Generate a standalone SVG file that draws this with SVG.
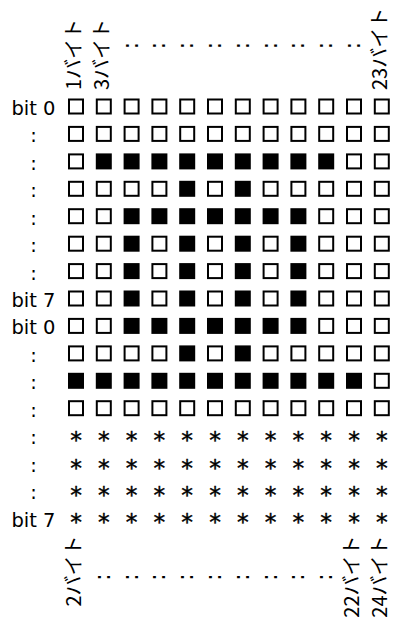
<svg xmlns="http://www.w3.org/2000/svg" width="396" height="621" viewBox="0 0 396 621">
<style>
.e{fill:#fff;stroke:#000;stroke-width:2}
.f{fill:#000;stroke:#000;stroke-width:2}
.lbl{font-family:"DejaVu Sans","Noto Sans CJK JP",sans-serif;font-size:19.5px;fill:#000;text-anchor:middle}
.hd{font-family:"Noto Sans CJK JP",sans-serif;font-size:20px;fill:#000}
.hde{font-family:"Noto Sans CJK JP",sans-serif;font-size:20px;fill:#000;text-anchor:end}
.cl{font-family:"DejaVu Sans",sans-serif;font-size:23px;fill:#000}
.ast{font-family:"DejaVu Sans",sans-serif;font-size:23.4px;fill:#000;stroke:#000;stroke-width:0.4;text-anchor:middle}
</style>
<defs>
<rect id="e" class="e" x="-7" y="-7" width="14" height="14"/>
<rect id="f" class="f" x="-7" y="-7" width="14" height="14"/>
</defs>
<rect width="396" height="621" fill="#fff"/>
<g id="header-top">
<text class="hd" transform="translate(81,90) rotate(-90)">1バイト</text>
<text class="hd" transform="translate(108.8,90) rotate(-90)">3バイト</text>
<text class="cl" transform="translate(137.6,49.4) rotate(-90)">:</text>
<text class="cl" transform="translate(165.4,49.4) rotate(-90)">:</text>
<text class="cl" transform="translate(193.2,49.4) rotate(-90)">:</text>
<text class="cl" transform="translate(221,49.4) rotate(-90)">:</text>
<text class="cl" transform="translate(248.8,49.4) rotate(-90)">:</text>
<text class="cl" transform="translate(276.6,49.4) rotate(-90)">:</text>
<text class="cl" transform="translate(304.4,49.4) rotate(-90)">:</text>
<text class="cl" transform="translate(332.2,49.4) rotate(-90)">:</text>
<text class="cl" transform="translate(360,49.4) rotate(-90)">:</text>
<text class="hd" transform="translate(386.8,90) rotate(-90)">23バイト</text>
</g>
<g id="header-bottom">
<text class="hde" transform="translate(81,535.5) rotate(-90)">2バイト</text>
<text class="cl" transform="translate(109.8,581) rotate(-90)">:</text>
<text class="cl" transform="translate(137.6,581) rotate(-90)">:</text>
<text class="cl" transform="translate(165.4,581) rotate(-90)">:</text>
<text class="cl" transform="translate(193.2,581) rotate(-90)">:</text>
<text class="cl" transform="translate(221,581) rotate(-90)">:</text>
<text class="cl" transform="translate(248.8,581) rotate(-90)">:</text>
<text class="cl" transform="translate(276.6,581) rotate(-90)">:</text>
<text class="cl" transform="translate(304.4,581) rotate(-90)">:</text>
<text class="cl" transform="translate(332.2,581) rotate(-90)">:</text>
<text class="hde" transform="translate(359,535.5) rotate(-90)">22バイト</text>
<text class="hde" transform="translate(386.8,535.5) rotate(-90)">24バイト</text>
</g>
<g id="row-labels">
<text class="lbl" x="33.5" y="115">bit 0</text>
<text class="lbl" x="33.5" y="142.4">:</text>
<text class="lbl" x="33.5" y="169.9">:</text>
<text class="lbl" x="33.5" y="197.3">:</text>
<text class="lbl" x="33.5" y="224.7">:</text>
<text class="lbl" x="33.5" y="252.2">:</text>
<text class="lbl" x="33.5" y="279.6">:</text>
<text class="lbl" x="33.5" y="307">bit 7</text>
<text class="lbl" x="33.5" y="334.4">bit 0</text>
<text class="lbl" x="33.5" y="361.9">:</text>
<text class="lbl" x="33.5" y="389.3">:</text>
<text class="lbl" x="33.5" y="416.7">:</text>
<text class="lbl" x="33.5" y="444.2">:</text>
<text class="lbl" x="33.5" y="471.6">:</text>
<text class="lbl" x="33.5" y="499">:</text>
<text class="lbl" x="33.5" y="526.5">bit 7</text>
</g>
<g id="row-0" transform="translate(0,106.5)">
<use href="#e" x="76"/><use href="#e" x="103.8"/><use href="#e" x="131.6"/><use href="#e" x="159.4"/><use href="#e" x="187.2"/><use href="#e" x="215"/><use href="#e" x="242.8"/><use href="#e" x="270.6"/><use href="#e" x="298.4"/><use href="#e" x="326.2"/><use href="#e" x="354"/><use href="#e" x="381.8"/>
</g>
<g id="row-1" transform="translate(0,133.9)">
<use href="#e" x="76"/><use href="#e" x="103.8"/><use href="#e" x="131.6"/><use href="#e" x="159.4"/><use href="#e" x="187.2"/><use href="#e" x="215"/><use href="#e" x="242.8"/><use href="#e" x="270.6"/><use href="#e" x="298.4"/><use href="#e" x="326.2"/><use href="#e" x="354"/><use href="#e" x="381.8"/>
</g>
<g id="row-2" transform="translate(0,161.4)">
<use href="#e" x="76"/><use href="#f" x="103.8"/><use href="#f" x="131.6"/><use href="#f" x="159.4"/><use href="#f" x="187.2"/><use href="#f" x="215"/><use href="#f" x="242.8"/><use href="#f" x="270.6"/><use href="#f" x="298.4"/><use href="#f" x="326.2"/><use href="#e" x="354"/><use href="#e" x="381.8"/>
</g>
<g id="row-3" transform="translate(0,188.8)">
<use href="#e" x="76"/><use href="#e" x="103.8"/><use href="#e" x="131.6"/><use href="#e" x="159.4"/><use href="#f" x="187.2"/><use href="#e" x="215"/><use href="#f" x="242.8"/><use href="#e" x="270.6"/><use href="#e" x="298.4"/><use href="#e" x="326.2"/><use href="#e" x="354"/><use href="#e" x="381.8"/>
</g>
<g id="row-4" transform="translate(0,216.2)">
<use href="#e" x="76"/><use href="#e" x="103.8"/><use href="#f" x="131.6"/><use href="#f" x="159.4"/><use href="#f" x="187.2"/><use href="#f" x="215"/><use href="#f" x="242.8"/><use href="#f" x="270.6"/><use href="#f" x="298.4"/><use href="#e" x="326.2"/><use href="#e" x="354"/><use href="#e" x="381.8"/>
</g>
<g id="row-5" transform="translate(0,243.7)">
<use href="#e" x="76"/><use href="#e" x="103.8"/><use href="#f" x="131.6"/><use href="#e" x="159.4"/><use href="#f" x="187.2"/><use href="#e" x="215"/><use href="#f" x="242.8"/><use href="#e" x="270.6"/><use href="#f" x="298.4"/><use href="#e" x="326.2"/><use href="#e" x="354"/><use href="#e" x="381.8"/>
</g>
<g id="row-6" transform="translate(0,271.1)">
<use href="#e" x="76"/><use href="#e" x="103.8"/><use href="#f" x="131.6"/><use href="#e" x="159.4"/><use href="#f" x="187.2"/><use href="#e" x="215"/><use href="#f" x="242.8"/><use href="#e" x="270.6"/><use href="#f" x="298.4"/><use href="#e" x="326.2"/><use href="#e" x="354"/><use href="#e" x="381.8"/>
</g>
<g id="row-7" transform="translate(0,298.5)">
<use href="#e" x="76"/><use href="#e" x="103.8"/><use href="#f" x="131.6"/><use href="#e" x="159.4"/><use href="#f" x="187.2"/><use href="#e" x="215"/><use href="#f" x="242.8"/><use href="#e" x="270.6"/><use href="#f" x="298.4"/><use href="#e" x="326.2"/><use href="#e" x="354"/><use href="#e" x="381.8"/>
</g>
<g id="row-8" transform="translate(0,325.9)">
<use href="#e" x="76"/><use href="#e" x="103.8"/><use href="#f" x="131.6"/><use href="#f" x="159.4"/><use href="#f" x="187.2"/><use href="#f" x="215"/><use href="#f" x="242.8"/><use href="#f" x="270.6"/><use href="#f" x="298.4"/><use href="#e" x="326.2"/><use href="#e" x="354"/><use href="#e" x="381.8"/>
</g>
<g id="row-9" transform="translate(0,353.4)">
<use href="#e" x="76"/><use href="#e" x="103.8"/><use href="#e" x="131.6"/><use href="#e" x="159.4"/><use href="#f" x="187.2"/><use href="#e" x="215"/><use href="#f" x="242.8"/><use href="#e" x="270.6"/><use href="#e" x="298.4"/><use href="#e" x="326.2"/><use href="#e" x="354"/><use href="#e" x="381.8"/>
</g>
<g id="row-10" transform="translate(0,380.8)">
<use href="#f" x="76"/><use href="#f" x="103.8"/><use href="#f" x="131.6"/><use href="#f" x="159.4"/><use href="#f" x="187.2"/><use href="#f" x="215"/><use href="#f" x="242.8"/><use href="#f" x="270.6"/><use href="#f" x="298.4"/><use href="#f" x="326.2"/><use href="#f" x="354"/><use href="#e" x="381.8"/>
</g>
<g id="row-11" transform="translate(0,408.2)">
<use href="#e" x="76"/><use href="#e" x="103.8"/><use href="#e" x="131.6"/><use href="#e" x="159.4"/><use href="#e" x="187.2"/><use href="#e" x="215"/><use href="#e" x="242.8"/><use href="#e" x="270.6"/><use href="#e" x="298.4"/><use href="#e" x="326.2"/><use href="#e" x="354"/><use href="#e" x="381.8"/>
</g>
<g id="row-12" class="ast" transform="translate(0,448.1)">
<text x="76">*</text><text x="103.8">*</text><text x="131.6">*</text><text x="159.4">*</text><text x="187.2">*</text><text x="215">*</text><text x="242.8">*</text><text x="270.6">*</text><text x="298.4">*</text><text x="326.2">*</text><text x="354">*</text><text x="381.8">*</text>
</g>
<g id="row-13" class="ast" transform="translate(0,475.5)">
<text x="76">*</text><text x="103.8">*</text><text x="131.6">*</text><text x="159.4">*</text><text x="187.2">*</text><text x="215">*</text><text x="242.8">*</text><text x="270.6">*</text><text x="298.4">*</text><text x="326.2">*</text><text x="354">*</text><text x="381.8">*</text>
</g>
<g id="row-14" class="ast" transform="translate(0,502.9)">
<text x="76">*</text><text x="103.8">*</text><text x="131.6">*</text><text x="159.4">*</text><text x="187.2">*</text><text x="215">*</text><text x="242.8">*</text><text x="270.6">*</text><text x="298.4">*</text><text x="326.2">*</text><text x="354">*</text><text x="381.8">*</text>
</g>
<g id="row-15" class="ast" transform="translate(0,530.4)">
<text x="76">*</text><text x="103.8">*</text><text x="131.6">*</text><text x="159.4">*</text><text x="187.2">*</text><text x="215">*</text><text x="242.8">*</text><text x="270.6">*</text><text x="298.4">*</text><text x="326.2">*</text><text x="354">*</text><text x="381.8">*</text>
</g>
</svg>
